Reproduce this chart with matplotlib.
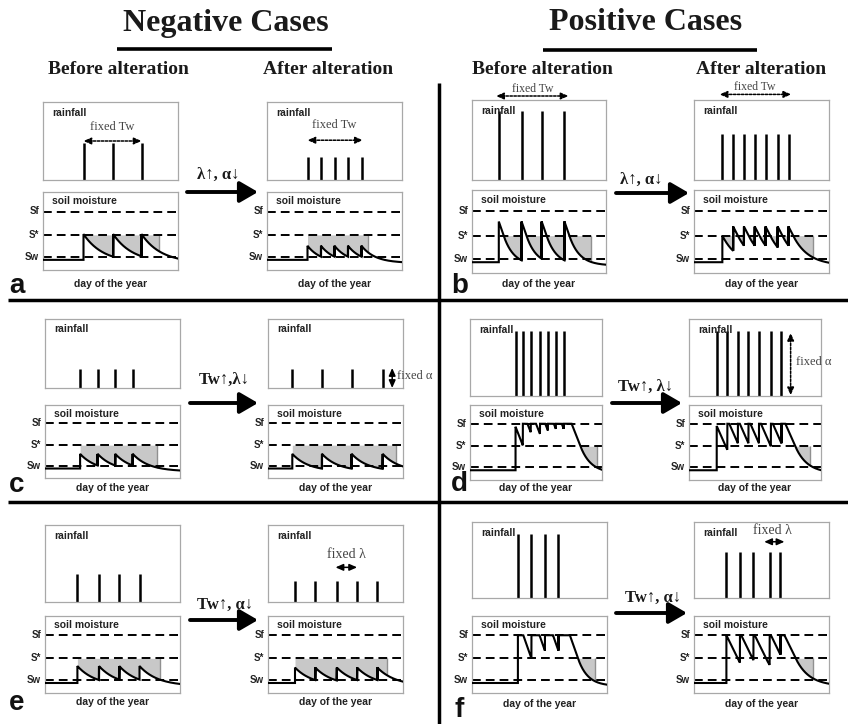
import numpy as np
import matplotlib.pyplot as plt

# sub-panels: letter + 0 (before alteration) / 1 (after alteration)
panels = ['a0', 'a1', 'b0', 'b1', 'c0', 'c1', 'd0', 'd1', 'e0', 'e1', 'f0', 'f1']

# rain pulses: timing in the season (fraction of box width) and bar height
rain_x = [
    [0.30, 0.52, 0.73],
    [0.30, 0.40, 0.50, 0.60, 0.70],
    [0.20, 0.37, 0.52, 0.69],
    [0.21, 0.29, 0.37, 0.45, 0.53, 0.62, 0.70],
    [0.26, 0.39, 0.52, 0.65],
    [0.18, 0.40, 0.62, 0.85],
    [0.345, 0.40, 0.46, 0.53, 0.59, 0.65, 0.71],
    [0.21, 0.29, 0.37, 0.45, 0.53, 0.62, 0.70],
    [0.24, 0.40, 0.55, 0.70],
    [0.20, 0.35, 0.51, 0.66, 0.81],
    [0.34, 0.44, 0.54, 0.64],
    [0.24, 0.34, 0.44, 0.56, 0.64],
]
rain_h = [0.47, 0.29, 0.86, 0.58, 0.27, 0.27, 0.84, 0.84, 0.37, 0.27, 0.84, 0.61]

# soil moisture right after each pulse, time held at that level, loss rate
peaks = [
    [0.46] * 3,
    [0.31] * 5,
    [0.62] * 4,
    [0.45] + [0.56] * 6,
    [0.33] * 4,
    [0.33] * 4,
    [0.71] + [0.75] * 6,
    [0.72] + [0.75] * 6,
    [0.35] * 4,
    [0.33] * 5,
    [0.75] * 4,
    [0.75] * 5,
]
holds = [
    [0] * 3, [0] * 5, [0] * 4, [0] * 7, [0] * 4, [0] * 4,
    [0, 0.035, 0.04, 0.04, 0.045, 0.045, 0.06],
    [0, 0.015, 0.015, 0.015, 0.015, 0.015, 0.03],
    [0] * 4, [0] * 5,
    [0.04, 0.06, 0.06, 0.085],
    [0, 0.01, 0.01, 0.01, 0.03],
]
loss = [2.5, 3.6, 4.7, 3.2, 3.0, 3.0, 4.5, 4.0, 2.7, 2.7, 5.0, 3.6]
stress_end = [0.86, 0.75, 0.89, 0.88, 0.83, 0.95, 0.96, 0.92, 0.85, 0.88, 0.91, 0.88]

# thresholds (fraction of soil box height)
SF, SSTAR, SW = 0.75, 0.45, 0.17
S_BASE, S_FLOOR = 0.13, 0.09

arrow_text = {'a': 'λ↑, α↓', 'b': 'λ↑, α↓', 'c': 'Tw↑,λ↓',
              'd': 'Tw↑, λ↓', 'e': 'Tw↑, α↓', 'f': 'Tw↑, α↓'}

W, H = 848, 724
SERIF = ['Liberation Serif', 'DejaVu Serif']
SANS = ['Liberation Sans', 'DejaVu Sans']


def rect(x0, y0, x1, y1):
    return [x0 / W, 1 - y1 / H, (x1 - x0) / W, (y1 - y0) / H]


def decay(p, tau, E):
    tau = np.clip(tau, 0, None)
    k = E / (SSTAR - S_FLOOR)
    if p > SSTAR:
        t1 = (p - SSTAR) / E
        return np.where(tau < t1, p - E * tau,
                        S_FLOOR + (SSTAR - S_FLOOR) * np.exp(-k * (tau - t1)))
    return S_FLOOR + (p - S_FLOOR) * np.exp(-k * tau)


def soil_at(t, rx, pk, hd, E):
    t = np.atleast_1d(t)
    out = np.full(t.shape, S_BASE)
    for j in range(len(rx)):
        m = t >= rx[j]
        out[m] = decay(pk[j], t[m] - rx[j] - hd[j], E)
    return out


fig = plt.figure(figsize=(W / 100, H / 100), dpi=100)

# layout in pixels
box_x = {'a0': (43, 178), 'a1': (267, 402), 'b0': (472, 606), 'b1': (694, 829),
         'c0': (45, 180), 'c1': (268, 403), 'd0': (470, 602), 'd1': (689, 821),
         'e0': (45, 180), 'e1': (268, 403), 'f0': (472, 607), 'f1': (694, 829)}
box_y = {'a': ((102, 180), (192, 270), 284), 'b': ((100, 180), (190, 273), 284),
         'c': ((319, 388), (405, 478), 488), 'd': ((319, 396), (405, 480), 488),
         'e': ((525, 602), (616, 693), 702), 'f': ((522, 598), (616, 693), 704)}

rain_axes = {}
for i, key in enumerate(panels):
    x0, x1 = box_x[key]
    (ry0, ry1), (sy0, sy1), ly = box_y[key[0]]
    axr = fig.add_axes(rect(x0, ry0, x1, ry1))
    axs = fig.add_axes(rect(x0, sy0, x1, sy1))
    for ax in (axr, axs):
        ax.set_xlim(0, 1)
        ax.set_ylim(0, 1)
        ax.set_xticks([])
        ax.set_yticks([])
        for sp in ax.spines.values():
            sp.set_color('#a8a8a8')
            sp.set_linewidth(0.9)
    rain_axes[key] = axr

    axr.vlines(rain_x[i], 0, rain_h[i], color='k', lw=1.8)
    axr.text(0.07, 0.86, 'rainfall', transform=axr.transAxes, family=SANS,
             fontweight='bold', fontsize=7.5, va='center', ha='left', color='#222')

    # soil moisture
    axs.text(0.07, 0.88, 'soil moisture', transform=axs.transAxes, family=SANS,
             fontweight='bold', fontsize=7.5, va='center', ha='left', color='#222')
    for lev, lab in [(SF, 'Sf'), (SSTAR, 'S*'), (SW, 'Sw')]:
        axs.axhline(lev, color='k', lw=1.4, dashes=(4.5, 2.6), zorder=2)
        axs.text(-0.03, lev, lab, ha='right', va='center', family=SANS,
                 fontweight='bold', fontsize=7, clip_on=False, color='#222')

    rx, pk, hd, E = rain_x[i], peaks[i], holds[i], loss[i]
    xs, ss = [0.0], [S_BASE]
    ends = rx[1:] + [1.0]
    for j in range(len(rx)):
        t = np.linspace(rx[j], ends[j], 200)
        s = soil_at(t, rx, pk, hd, E)
        s[0] = pk[j]
        xs += [rx[j]] + list(t)
        ss += [soil_at(rx[j] - 1e-9, rx, pk, hd, E)[0]] + list(s)
    axs.plot(xs, ss, color='k', lw=1.5, zorder=3, solid_joinstyle='miter')

    xf = np.linspace(rx[0] + 1e-6, stress_end[i], 600)
    sf = soil_at(xf, rx, pk, hd, E)
    axs.fill_between(xf, np.minimum(sf, SSTAR), SSTAR, color='#c8c8c8', lw=0, zorder=1)
    s_end = soil_at(stress_end[i], rx, pk, hd, E)[0]
    if s_end < SSTAR:
        axs.vlines(stress_end[i], s_end, SSTAR, color='#909090', lw=1.0, zorder=1)

    fig.text((x0 + x1) / 2 / W, 1 - ly / H, 'day of the year', family=SANS,
             fontweight='bold', fontsize=7.5, ha='center', va='center', color='#222')


def double_arrow(ax, xa, ya, xb, yb, dotted=True, ms=9):
    ax.annotate('', xy=(xb, yb), xytext=(xa, ya), xycoords='data',
                arrowprops=dict(arrowstyle='<|-|>,head_length=0.5,head_width=0.22',
                                lw=1.1, color='k', mutation_scale=ms,
                                linestyle=(0, (1.6, 1.0)) if dotted else '-',
                                shrinkA=0, shrinkB=0),
                annotation_clip=False)


def note(ax, x, y, s, ha='center', size=9):
    ax.text(x, y, s, family=SERIF, fontsize=size, color='#444', ha=ha, va='center',
            clip_on=False)


# "fixed" annotations
double_arrow(rain_axes['a0'], 0.30, 0.50, 0.73, 0.50)
note(rain_axes['a0'], 0.51, 0.68, 'fixed Tw')
double_arrow(rain_axes['a1'], 0.30, 0.51, 0.71, 0.51)
note(rain_axes['a1'], 0.50, 0.70, 'fixed Tw')
double_arrow(rain_axes['b0'], 0.18, 1.05, 0.72, 1.05)
note(rain_axes['b0'], 0.45, 1.14, 'fixed Tw', size=8.5)
double_arrow(rain_axes['b1'], 0.19, 1.07, 0.72, 1.07)
note(rain_axes['b1'], 0.45, 1.16, 'fixed Tw', size=8.5)
double_arrow(rain_axes['c1'], 0.92, 0.0, 0.92, 0.29, dotted=False)
note(rain_axes['c1'], 0.955, 0.17, 'fixed α', ha='left')
double_arrow(rain_axes['d1'], 0.77, 0.01, 0.77, 0.82)
note(rain_axes['d1'], 0.81, 0.44, 'fixed α', ha='left')
double_arrow(rain_axes['e1'], 0.50, 0.45, 0.66, 0.45, dotted=False)
note(rain_axes['e1'], 0.58, 0.62, 'fixed λ', size=10)
double_arrow(rain_axes['f1'], 0.52, 0.74, 0.67, 0.74, dotted=False)
note(rain_axes['f1'], 0.58, 0.89, 'fixed λ', size=10)

# overlay in pixel coordinates for titles, arrows and dividers
ov = fig.add_axes([0, 0, 1, 1])
ov.set_xlim(0, W)
ov.set_ylim(H, 0)
ov.axis('off')
ov.patch.set_alpha(0)

ov.text(226, 23, 'Negative Cases', family=SERIF, fontweight='bold', fontsize=23,
        ha='center', va='center', color='#1a1a1a')
ov.text(646, 23, 'Positive Cases', family=SERIF, fontweight='bold', fontsize=23,
        ha='center', va='center', color='#1a1a1a')
ov.plot([117, 332], [49, 49], color='k', lw=2.6, solid_capstyle='butt')
ov.plot([543, 757], [50, 50], color='k', lw=2.6, solid_capstyle='butt')
for xc, s in [(118, 'Before alteration'), (328, 'After alteration'),
              (542, 'Before alteration'), (761, 'After alteration')]:
    ov.text(xc, 70, s, family=SERIF, fontweight='bold', fontsize=14,
            ha='center', va='center', color='#1a1a1a')

ov.plot([8, W], [300, 300], color='k', lw=2.5, solid_capstyle='butt')
ov.plot([8, W], [502, 502], color='k', lw=2.5, solid_capstyle='butt')
ov.plot([439, 439], [83, H], color='k', lw=2.5, solid_capstyle='butt')

arrows = {'a': (187, 258, 192, 218, 175), 'b': (616, 689, 193, 641, 180),
          'c': (190, 258, 403, 224, 380), 'd': (612, 682, 403, 646, 387),
          'e': (190, 258, 620, 225, 605), 'f': (616, 687, 613, 653, 598)}
for k, (xa, xb, ya, tx, ty) in arrows.items():
    ov.annotate('', xy=(xb, ya), xytext=(xa, ya),
                arrowprops=dict(arrowstyle='-|>,head_length=0.55,head_width=0.32',
                                lw=2.8, color='k', mutation_scale=20,
                                shrinkA=0, shrinkB=0))
    ov.text(tx, ty, arrow_text[k], family=SERIF, fontweight='bold', fontsize=12,
            ha='center', va='center', color='#1a1a1a')

letters = {'a': (17, 286), 'b': (460, 286), 'c': (17, 485),
           'd': (459, 484), 'e': (17, 703), 'f': (459, 710)}
for k, (x, y) in letters.items():
    ov.text(x, y, k, family=SANS, fontweight='bold', fontsize=20,
            ha='center', va='center', color='#111')

fig.savefig('out.png', dpi=100)
